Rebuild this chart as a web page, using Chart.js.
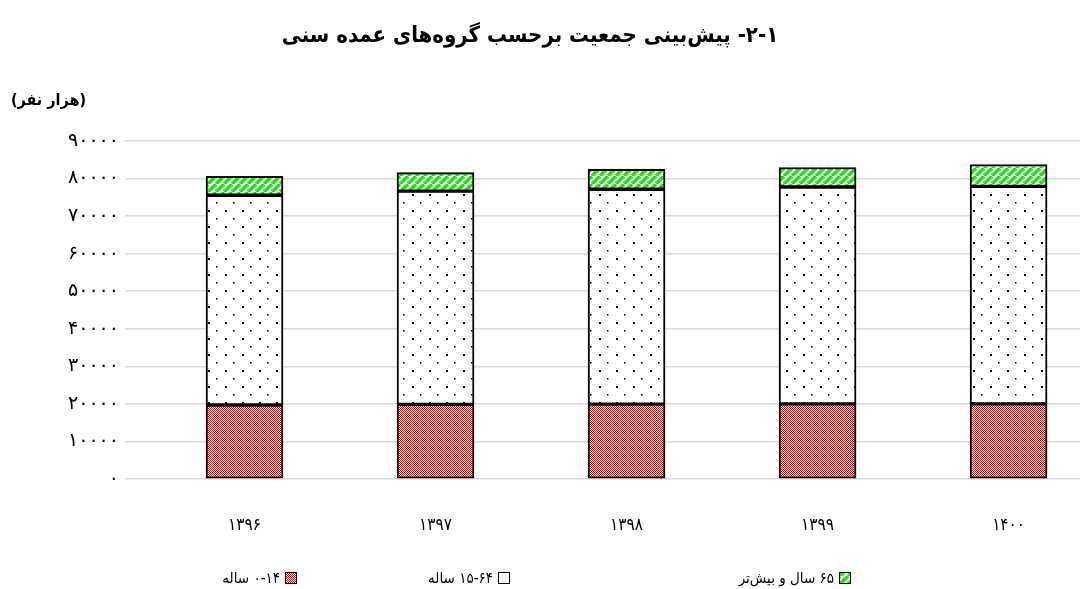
<!DOCTYPE html>
<html lang="fa">
<head>
  <meta charset="UTF-8">
  <title>پیش‌بینی جمعیت</title>
  <style>
    html, body { margin: 0; padding: 0; background: #fff; }
    #wrap { width: 1091px; height: 589px; }
  </style>
  <script src="https://cdn.jsdelivr.net/npm/chart.js"></script>
</head>
<body>
  <div id="wrap"><canvas id="chart" width="1091" height="589"></canvas></div>
  <script>
    // data (thousand persons)
    const years = ['۱۳۹۶', '۱۳۹۷', '۱۳۹۸', '۱۳۹۹', '۱۴۰۰'];
    const age0to14 = [19700, 19850, 19950, 20000, 20000];
    const age15to64 = [55850, 56800, 57200, 57750, 57900];
    const age65plus = [5050, 4950, 5300, 5200, 5850];
    const seriesNames = ['۰-۱۴ ساله', '۱۵-۶۴ ساله', '۶۵ سال و بیش‌تر'];
    const yTicks = [0, 10000, 20000, 30000, 40000, 50000, 60000, 70000, 80000, 90000];

    const FONT = "'DejaVu Sans Condensed', 'DejaVu Sans', sans-serif";
    const toFa = n => String(n).replace(/\d/g, d => '۰۱۲۳۴۵۶۷۸۹'[d]);

    function makeTile(w, h, draw) {
      const c = document.createElement('canvas');
      c.width = w; c.height = h;
      const g = c.getContext('2d');
      draw(g);
      return document.getElementById('chart').getContext('2d').createPattern(c, 'repeat');
    }

    // red checker
    const redPat = makeTile(2, 2, g => {
      g.fillStyle = '#ffffff';
      g.fillRect(0, 0, 2, 2);
      g.fillStyle = '#ff0000';
      g.fillRect(0, 0, 1, 1); g.fillRect(1, 1, 1, 1);
    });
    // white with dots
    const dotPat = makeTile(17, 16, g => {
      g.fillStyle = '#fff';
      g.fillRect(0, 0, 17, 16);
      g.fillStyle = '#000';
      g.fillRect(4, 2, 2, 2);
      g.fillRect(12, 10, 1.5, 1.5);
    });
    // green diagonal stripes
    const greenPat = makeTile(8, 8, g => {
      g.fillStyle = '#fff';
      g.fillRect(0, 0, 8, 8);
      g.strokeStyle = '#22e01a';
      g.lineWidth = 3.5;
      for (let k = -8; k <= 16; k += 8) {
        g.beginPath();
        g.moveTo(k, 8); g.lineTo(k + 8, 0);
        g.stroke();
      }
    });
    const fills = [redPat, dotPat, greenPat];

    const toPts = arr => arr.map((v, i) => ({ x: i, y: v }));

    const textPlugin = {
      id: 'texts',
      afterDraw(chart) {
        const ctx = chart.ctx;
        ctx.save();
        ctx.fillStyle = '#000';
        ctx.textBaseline = 'middle';
        ctx.direction = 'rtl';
        ctx.textAlign = 'center';
        ctx.font = 'bold 22px ' + FONT;
        ctx.fillText('۱\u200F-\u200F۲\u200F- پیش‌بینی جمعیت برحسب گروه‌های عمده سنی', 530, 36);
        ctx.textAlign = 'right';
        ctx.font = 'bold 16px ' + FONT;
        ctx.fillText('(هزار نفر)', 86, 101);

        // legend: box on the right of each text
        const boxRight = [297, 510, 851];
        ctx.font = '15px ' + FONT;
        seriesNames.forEach((name, i) => {
          const bx = boxRight[i] - 12, by = 572;
          ctx.fillStyle = fills[i];
          ctx.fillRect(bx, by, 12, 12);
          ctx.strokeStyle = '#000';
          ctx.lineWidth = 1;
          ctx.strokeRect(bx + 0.5, by + 0.5, 11, 11);
          ctx.fillStyle = '#000';
          ctx.textAlign = 'right';
          ctx.fillText(name, bx - 5, by + 7);
        });
        ctx.restore();
      }
    };

    const mk = (label, arr, i) => ({
      label: label,
      data: toPts(arr),
      backgroundColor: fills[i],
      borderColor: '#000',
      borderWidth: 2,
      borderSkipped: false,
      barThickness: 77
    });

    new Chart(document.getElementById('chart'), {
      type: 'bar',
      data: {
        datasets: [
          mk(seriesNames[0], age0to14, 0),
          mk(seriesNames[1], age15to64, 1),
          mk(seriesNames[2], age65plus, 2)
        ]
      },
      options: {
        responsive: false,
        animation: false,
        layout: { padding: { top: 141, left: 0, right: 11, bottom: 0 } },
        plugins: {
          legend: { display: false },
          title: { display: false },
          tooltip: { enabled: false }
        },
        scales: {
          x: {
            type: 'linear',
            stacked: true,
            offset: false,
            min: -0.6257,
            max: 4.374,
            afterBuildTicks: s => { s.ticks = years.map((_, i) => ({ value: i })); },
            afterFit: s => { s.height = 110; },
            grid: { display: false },
            border: { display: false },
            ticks: {
              padding: 28,
              color: '#000',
              maxRotation: 0,
              autoSkip: false,
              font: { family: FONT, size: 17 },
              callback: v => years[v] ?? ''
            }
          },
          y: {
            stacked: true,
            min: 0,
            max: 90000,
            afterBuildTicks: s => { s.ticks = yTicks.map(v => ({ value: v })); },
            afterFit: s => { s.width = 125; },
            grid: { color: '#d9d9d9', lineWidth: 1.5, drawTicks: false },
            border: { display: false },
            ticks: {
              padding: 6,
              color: '#000',
              font: { family: "'DejaVu Sans', sans-serif", size: 19 },
              callback: v => toFa(v)
            }
          }
        }
      },
      plugins: [textPlugin]
    });
  </script>
</body>
</html>
